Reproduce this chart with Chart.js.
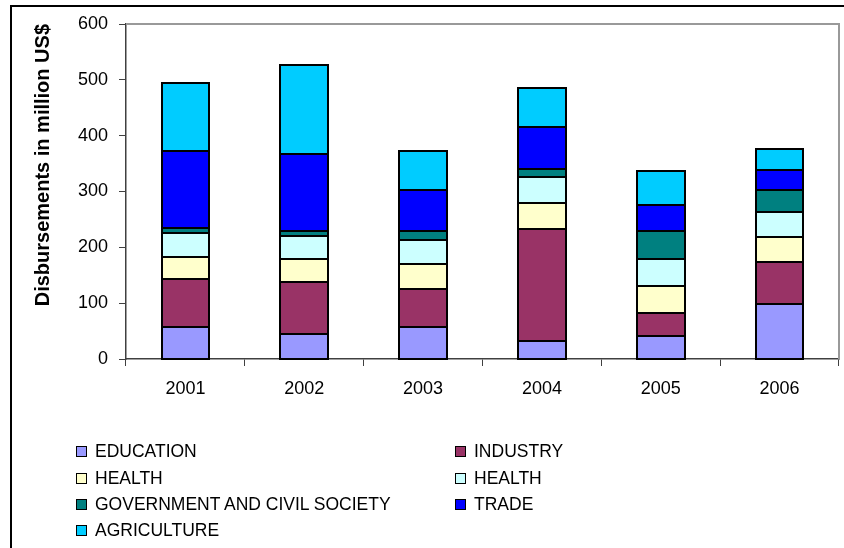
<!DOCTYPE html>
<html>
<head>
<meta charset="utf-8">
<script src="https://cdn.jsdelivr.net/npm/chart.js@4/dist/chart.umd.min.js"></script>
<style>
    body {margin: 0; background: #fff; overflow: hidden; font-family: "Liberation Sans", Arial, sans-serif;}
    .frame {position: absolute; left: 10px; top: 5px; width: 900px; height: 600px; border: 2px solid #000;}
    #chart {position: absolute; left: 0; top: 0;}
    .legend {position: absolute; left: 0; top: 0;}
    .legend__item {position: absolute; display: flex; align-items: center; font-size: 17.5px; color: #000; white-space: nowrap; height: 20px;}
    .legend__box {width: 9px; height: 9px; border: 1.5px solid #000; margin-right: 8px;}
</style>
</head>
<body>
<div class="frame"></div>
<canvas id="chart" width="844" height="548"></canvas>
<div class="legend" id="legend"></div>

<script>
    const years = ['2001', '2002', '2003', '2004', '2005', '2006']

    // Выплаты по секторам, млн US$
    const education = [57, 44, 57, 33, 42, 98]
    const industry = [86, 94, 68, 200, 41, 76]
    const health = [40, 42, 46, 47, 48, 45]
    const health2 = [42, 41, 42, 46, 48, 44]
    const government = [9, 9, 17, 15, 50, 39]
    const trade = [138, 137, 73, 75, 46, 36]
    const agriculture = [122, 160, 69, 69, 61, 39]

    const sectorNames = ['EDUCATION', 'INDUSTRY', 'HEALTH', 'HEALTH', 'GOVERNMENT AND CIVIL SOCIETY', 'TRADE', 'AGRICULTURE']
    const sectorColors = ['#9999FF', '#993366', '#FFFFCC', '#CCFFFF', '#008080', '#0000FF', '#00CCFF']
    const sectorValues = [education, industry, health, health2, government, trade, agriculture]

    const font = '"Liberation Sans", Arial, sans-serif'
    const axisColor = '#404040'

    const datasets = sectorNames.map((name, i) => ({
        label: name,
        data: sectorValues[i],
        backgroundColor: sectorColors[i],
        borderWidth: 0,
        categoryPercentage: 1,
        barPercentage: 0.4,
    }))

    // серая рамка области построения (верх и право)
    const plotFrame = {
        id: 'plotFrame',
        beforeDatasetsDraw(chart) {
            const {ctx, chartArea} = chart
            ctx.save()
            ctx.strokeStyle = '#999999'
            ctx.lineWidth = 2
            ctx.beginPath()
            ctx.moveTo(chartArea.left, chartArea.top)
            ctx.lineTo(chartArea.right, chartArea.top)
            ctx.lineTo(chartArea.right, chartArea.bottom)
            ctx.stroke()
            ctx.restore()
        }
    }

    // чёрная обводка сегментов, общая для соседних
    const barOutline = {
        id: 'barOutline',
        afterDatasetsDraw(chart) {
            const {ctx} = chart
            ctx.save()
            ctx.strokeStyle = '#000000'
            ctx.lineWidth = 2
            chart.data.datasets.forEach((ds, i) => {
                chart.getDatasetMeta(i).data.forEach(bar => {
                    const {x, y, base, width} = bar.getProps(['x', 'y', 'base', 'width'], true)
                    const left = Math.round(x - width / 2)
                    const right = Math.round(x + width / 2)
                    const top = Math.round(Math.min(y, base))
                    const bottom = Math.round(Math.max(y, base))
                    ctx.strokeRect(left, top, right - left, bottom - top)
                })
            })
            ctx.restore()
        }
    }

    const ctx = document.getElementById('chart').getContext('2d')
    const chart = new Chart(ctx, {
        type: 'bar',
        data: {labels: years, datasets: datasets},
        plugins: [plotFrame, barOutline],
        options: {
            responsive: false,
            animation: false,
            layout: {padding: {left: 12, top: 24, right: 5, bottom: 149}},
            plugins: {
                legend: {display: false},
                tooltip: {enabled: false}
            },
            scales: {
                x: {
                    stacked: true,
                    afterFit: scale => { scale.height = 40 },
                    grid: {drawOnChartArea: false, drawTicks: true, tickLength: 7, color: axisColor, lineWidth: 1},
                    border: {color: axisColor, width: 1.5},
                    ticks: {color: '#000000', padding: 12, font: {family: font, size: 18}}
                },
                y: {
                    stacked: true,
                    min: 0,
                    max: 600,
                    afterFit: scale => { scale.width = 114 },
                    grid: {drawOnChartArea: false, drawTicks: true, tickLength: 7, color: axisColor, lineWidth: 1},
                    border: {color: axisColor, width: 1.5},
                    ticks: {stepSize: 100, color: '#000000', padding: 11, font: {family: font, size: 18}},
                    title: {
                        display: true,
                        text: 'Disbursements in million US$',
                        align: 'end',
                        color: '#000000',
                        font: {family: font, size: 20, weight: 'bold'},
                        padding: {top: 19, bottom: 0}
                    }
                }
            }
        }
    })

    // легенда в две колонки
    const legend = document.getElementById('legend')
    const rowY = [441, 468, 494, 520]
    const colX = [76, 455]
    chart.data.datasets.forEach((ds, i) => {
        const item = document.createElement('div')
        item.className = 'legend__item'
        item.style.left = colX[i % 2] + 'px'
        item.style.top = rowY[Math.floor(i / 2)] + 'px'
        const box = document.createElement('span')
        box.className = 'legend__box'
        box.style.background = ds.backgroundColor
        const text = document.createElement('span')
        text.textContent = ds.label
        item.appendChild(box)
        item.appendChild(text)
        legend.appendChild(item)
    })
</script>
</body>
</html>
